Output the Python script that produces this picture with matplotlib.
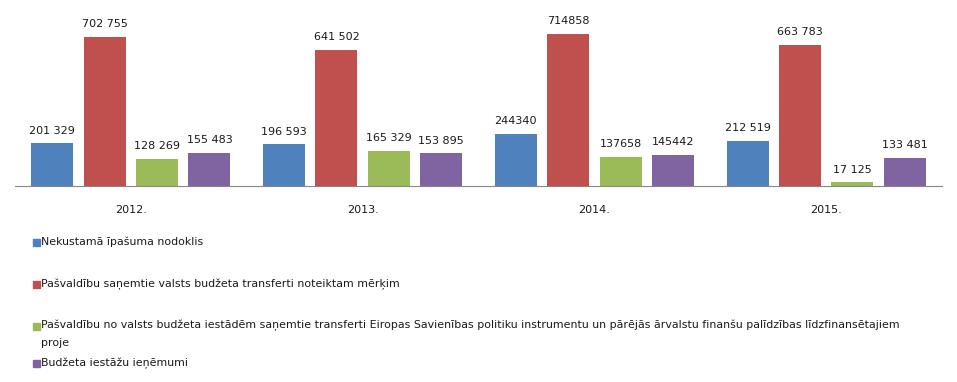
import matplotlib.pyplot as plt
import matplotlib.patches as mpatches
import numpy as np

years = ["2012.", "2013.", "2014.", "2015."]
series_names = [
    "Nekustamā īpašuma nodoklis",
    "Pašvaldību saņemtie valsts budžeta transferti noteiktam mērķim",
    "Pašvaldību no valsts budžeta iestādēm saņemtie transferti Eiropas Savienības politiku instrumentu un pārējās ārvalstu finanšu palīdzības līdzfinansētajiem\nproje",
    "Budžeta iestāžu ieņēmumi",
]
tax = [201329, 196593, 244340, 212519]
transfers = [702755, 641502, 714858, 663783]
eu_transfers = [128269, 165329, 137658, 17125]
own_income = [155483, 153895, 145442, 133481]
tax_labels = ["201 329", "196 593", "244340", "212 519"]
transfers_labels = ["702 755", "641 502", "714858", "663 783"]
eu_labels = ["128 269", "165 329", "137658", "17 125"]
own_labels = ["155 483", "153 895", "145442", "133 481"]

colors = ["#4F81BD", "#C0504D", "#9BBB59", "#8064A2"]

plt.rcParams['font.family'] = ['DejaVu Sans']

fig = plt.figure(figsize=(9.57, 3.82), dpi=100)
ax = fig.add_axes([15 / 957, 1 - 186 / 382, 927 / 957, 170 / 382])

x = np.arange(len(years))
width = 0.181
step = 0.226
values = [tax, transfers, eu_transfers, own_income]
labels = [tax_labels, transfers_labels, eu_labels, own_labels]
for i, (vals, labs) in enumerate(zip(values, labels)):
    pos = x + (i - 1.5) * step
    ax.bar(pos, vals, width=width, color=colors[i])
    for p, v, l in zip(pos, vals, labs):
        ax.annotate(l, (p, v), xytext=(0, 5.5), textcoords="offset points",
                    ha="center", va="bottom", fontsize=8, color="#1a1a1a")

ax.set_xlim(-0.5, len(years) - 0.5)
ax.set_ylim(0, 800000)
ax.set_xticks(x)
ax.set_xticklabels(years, fontsize=8, color="#1a1a1a")
ax.tick_params(axis="x", length=0, pad=14)
ax.set_yticks([])
for s in ["top", "right", "left"]:
    ax.spines[s].set_visible(False)
ax.spines["bottom"].set_color("#868686")

# legend
rows = [242, 284, 326, 363]
for name, c, y in zip(series_names, colors, rows):
    fy = 1 - y / 382
    fig.patches.append(mpatches.Rectangle((33 / 957, fy - 3.5 / 382), 7 / 957, 7 / 382,
                                          transform=fig.transFigure, color=c))
    if "\n" in name:
        fig.text(41 / 957, 1 - (y - 6) / 382, name, fontsize=7.95, va="top",
                 family="DejaVu Sans Condensed", color="#1a1a1a", linespacing=1.8)
    else:
        fig.text(41 / 957, fy, name, fontsize=7.95, va="center",
                 family="DejaVu Sans Condensed", color="#1a1a1a")

plt.savefig("out.png", dpi=100)
